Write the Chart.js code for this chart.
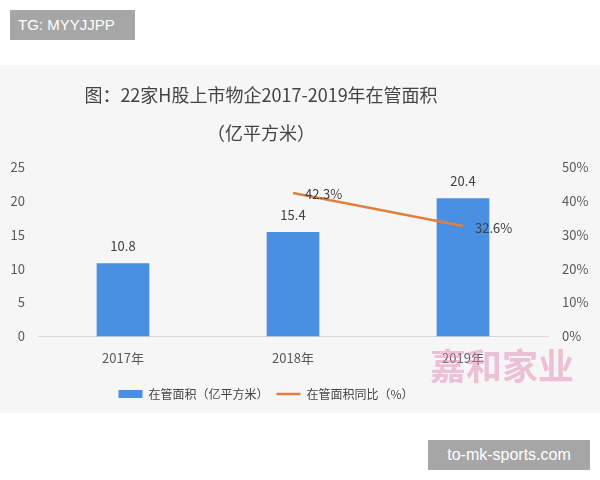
<!DOCTYPE html>
<html><head><meta charset="utf-8">
<script src="https://cdn.jsdelivr.net/npm/chart.js@4.4.1/dist/chart.umd.min.js"></script>
<style>
html,body{margin:0;padding:0;background:#fff;width:600px;height:480px;overflow:hidden;font-family:"Noto Sans CJK SC","Noto Sans",sans-serif;}
#panel{position:absolute;left:0;top:65px;width:600px;height:348px;background:#f6f6f6;}
#wrap{position:absolute;left:0;top:65px;width:600px;height:348px;}
.tag{position:absolute;background:#a6a6a6;color:#fff;font-family:"Liberation Sans",Arial,sans-serif;}
#tg{left:10px;top:10px;width:125px;height:30px;line-height:30px;font-size:15px;text-indent:8px;}
#site{left:428px;top:440px;width:162px;height:30px;line-height:30px;font-size:16px;text-align:center;}
#wm{position:absolute;left:430px;top:338px;font-size:36px;font-weight:bold;color:rgba(225,140,175,0.5);letter-spacing:0px;}
</style></head>
<body>
<div id="panel"></div>
<div id="wrap"><canvas id="c" width="600" height="348"></canvas></div>
<div id="wm">嘉和家业</div>
<div class="tag" id="tg">TG: MYYJJPP</div>
<div class="tag" id="site">to-mk-sports.com</div>
<script>
const titleLines = ["图：22家H股上市物企2017-2019年在管面积", "（亿平方米）"];
const categories = ["2017年", "2018年", "2019年"];
const areaValues = [10.8, 15.4, 20.4];
const yoyValues = [null, 42.3, 32.6];
const areaLabels = ["10.8", "15.4", "20.4"];
const yoyLabels = [null, "42.3%", "32.6%"];
const leftTicks = [0, 5, 10, 15, 20, 25];
const rightTicks = [0, 10, 20, 30, 40, 50];

const FONT = '"Noto Sans CJK SC", "Noto Sans", sans-serif';
const BLUE = '#4a90e2';
const ORANGE = '#e0803f';

const titlePlugin = {
  id: 'leftTitle',
  afterLayout(chart) {
    const lg = chart.legend;
    if (lg) { lg.left -= 34; lg.right -= 34; }
  },
  beforeDraw(chart) {
    const ctx = chart.ctx;
    ctx.save();
    ctx.fillStyle = '#444';
    ctx.font = '18px ' + FONT;
    ctx.textAlign = 'center';
    ctx.textBaseline = 'middle';
    ctx.fillText(titleLines[0], 261, 30);
    ctx.fillText(titleLines[1], 261, 68);
    ctx.restore();
  }
};

const labelPlugin = {
  id: 'valueLabels',
  afterDatasetsDraw(chart) {
    const ctx = chart.ctx;
    ctx.save();
    ctx.font = '13px ' + FONT;
    ctx.fillStyle = '#404040';
    const barMeta = chart.getDatasetMeta(0);
    barMeta.data.forEach((el, i) => {
      ctx.textAlign = 'center';
      ctx.textBaseline = 'middle';
      ctx.fillText(areaLabels[i], el.x, el.y - 17);
    });
    const lineMeta = chart.getDatasetMeta(1);
    lineMeta.data.forEach((el, i) => {
      if (yoyLabels[i] == null) return;
      ctx.textAlign = 'left';
      ctx.textBaseline = 'middle';
      ctx.fillText(yoyLabels[i], el.x + 12, el.y + (i === 1 ? 1 : 2));
    });
    ctx.restore();
  }
};

new Chart(document.getElementById('c'), {
  type: 'bar',
  data: {
    labels: categories,
    datasets: [
      {
        type: 'bar', label: '在管面积（亿平方米）', data: areaValues,
        backgroundColor: BLUE, borderWidth: 0, yAxisID: 'y',
        categoryPercentage: 1, barPercentage: 0.31, pointStyle: 'rect', order: 2
      },
      {
        type: 'line', label: '在管面积同比（%）', data: yoyValues,
        borderColor: ORANGE, backgroundColor: ORANGE, borderWidth: 2.5,
        pointRadius: 0, pointStyle: 'line', yAxisID: 'y1', spanGaps: false, order: 1
      }
    ]
  },
  options: {
    responsive: false,
    animation: false,
    layout: { padding: { left: 0, right: 0, top: 102, bottom: 3 } },
    plugins: {
      tooltip: { enabled: false },
      title: { display: false },
      legend: {
        position: 'bottom',
        labels: {
          usePointStyle: true, pointStyleWidth: 24, boxHeight: 8,
          color: '#444', font: { family: FONT, size: 12 }, padding: 8,
          sort: (a, b) => a.datasetIndex - b.datasetIndex
        }
      }
    },
    scales: {
      x: {
        grid: { display: false, drawTicks: false },
        border: { display: true, color: '#d9d9d9', width: 1 },
        ticks: { color: '#595959', font: { family: FONT, size: 13 }, padding: 14 }
      },
      y: {
        position: 'left', min: 0, max: 25,
        afterBuildTicks: s => { s.ticks = leftTicks.map(v => ({ value: v })); },
        afterFit: s => { s.width = 38; },
        grid: { display: false, drawTicks: false },
        border: { display: false },
        ticks: { color: '#595959', font: { family: FONT, size: 13 }, padding: 13 }
      },
      y1: {
        position: 'right', min: 0, max: 50,
        afterBuildTicks: s => { s.ticks = rightTicks.map(v => ({ value: v })); },
        afterFit: s => { s.width = 52; },
        grid: { display: false, drawTicks: false },
        border: { display: false },
        ticks: { color: '#595959', font: { family: FONT, size: 13 }, padding: 14, callback: v => v + '%' }
      }
    }
  },
  plugins: [titlePlugin, labelPlugin]
});
</script>
</body></html>
